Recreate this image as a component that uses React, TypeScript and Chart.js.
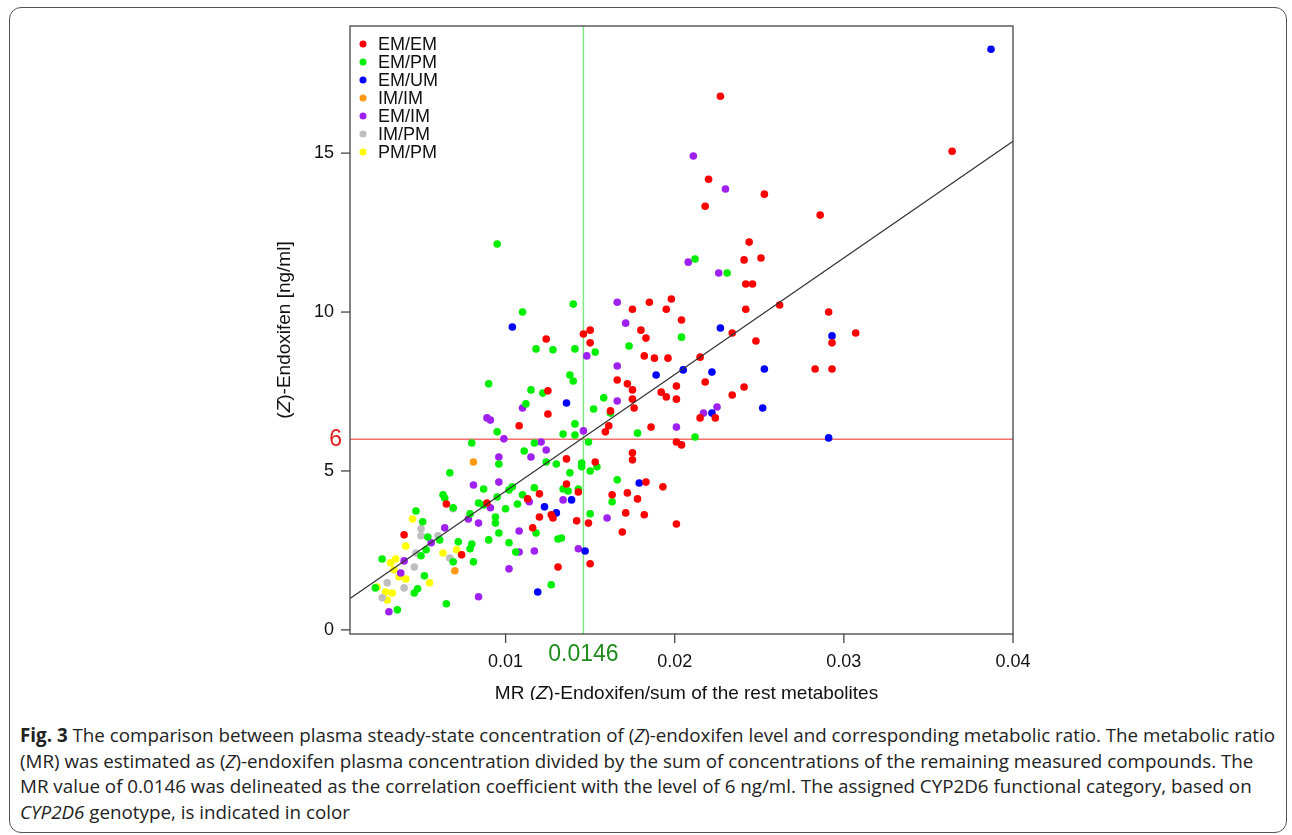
import React, { useEffect, useRef } from "react";
import { Chart, registerables } from "chart.js";
Chart.register(...registerables);

// MR values (x) and (Z)-endoxifen ng/ml (y) per CYP2D6 category
const emem: [number, number][] = [
  [0.0364,15.06],[0.0227,16.79],[0.022,14.18],[0.0218,13.33],[0.0253,13.71],[0.0286,13.05],[0.0244,12.2],[0.0241,11.64],[0.0251,11.7],
  [0.0242,10.88],[0.0246,10.88],[0.0242,10.09],[0.0262,10.22],[0.0234,9.34],[0.0248,9.09],[0.0175,10.09],[0.0185,10.31],[0.0198,10.41],
  [0.0195,10.09],[0.0204,9.75],[0.018,9.43],[0.0183,9.18],[0.015,9.43],[0.0146,9.31],[0.015,9.03],[0.0182,8.62],[0.0188,8.55],[0.0196,8.55],
  [0.0215,8.58],[0.0166,7.86],[0.0172,7.74],[0.0175,7.55],[0.0175,7.26],[0.0176,6.98],[0.0192,7.48],[0.0195,7.33],[0.0201,7.67],[0.0201,7.26],
  [0.0218,7.8],[0.0234,7.39],[0.0241,7.64],[0.0162,6.89],[0.0161,6.42],[0.0159,6.23],[0.0186,6.38],[0.0215,6.67],[0.0224,6.67],[0.0201,5.91],
  [0.0204,5.82],[0.0175,5.57],[0.0175,5.35],[0.0153,5.28],[0.0136,5.38],[0.0136,4.59],[0.0143,4.34],[0.0163,4.25],[0.0172,4.31],[0.0178,4.12],
  [0.0183,4.65],[0.0193,4.5],[0.0171,3.68],[0.0182,3.62],[0.0142,3.43],[0.0149,3.36],[0.0169,3.08],[0.0201,3.33],[0.015,2.08],[0.0291,10.0],
  [0.0293,9.03],[0.0307,9.34],[0.0283,8.21],[0.0293,8.21],[0.0124,9.15],[0.0125,7.52],[0.0125,6.79],[0.0108,6.42],[0.012,4.28],[0.0113,4.12],
  [0.0065,3.96],[0.0089,3.99],[0.012,3.55],[0.0127,3.62],[0.0128,3.52],[0.004,2.99],[0.0116,3.21],[0.0074,2.36],[0.0131,1.98],
];
const empm: [number, number][] = [
  [0.0095,12.14],[0.0212,11.67],[0.0231,11.23],[0.011,10.0],[0.014,10.25],[0.0141,8.84],[0.0153,8.74],[0.0173,8.93],[0.0204,9.21],[0.0138,8.02],
  [0.014,7.83],[0.0158,7.3],[0.0152,6.95],[0.0162,6.82],[0.0141,6.48],[0.0141,6.13],[0.0134,6.16],[0.0149,5.91],[0.0178,6.19],[0.0212,6.07],
  [0.0145,5.25],[0.0145,5.13],[0.0154,5.13],[0.015,5.0],[0.0138,4.94],[0.0166,4.72],[0.0134,4.43],[0.0137,4.37],[0.0143,4.43],[0.0163,4.03],
  [0.015,3.65],[0.0133,2.89],[0.0118,8.84],[0.0128,8.81],[0.009,7.74],[0.0115,7.55],[0.0122,7.45],[0.0112,7.11],[0.0095,6.23],[0.008,5.88],
  [0.0117,5.88],[0.0096,5.22],[0.0111,5.63],[0.013,5.22],[0.0124,5.28],[0.0067,4.94],[0.0087,4.43],[0.0102,4.4],[0.0104,4.5],[0.0117,4.47],
  [0.0095,4.18],[0.011,4.25],[0.0063,4.25],[0.0064,4.15],[0.0069,3.84],[0.0047,3.74],[0.0084,3.99],[0.0087,3.93],[0.01,3.81],[0.0107,3.96],
  [0.0079,3.65],[0.0094,3.55],[0.0094,3.36],[0.0051,3.4],[0.0096,3.05],[0.0118,3.05],[0.0054,2.92],[0.0061,2.83],[0.0072,2.77],[0.008,2.7],
  [0.0079,2.55],[0.009,2.83],[0.0102,2.74],[0.0131,2.86],[0.0053,2.52],[0.005,2.33],[0.0069,2.14],[0.0081,2.14],[0.0027,2.23],[0.0052,1.7],
  [0.0023,1.32],[0.0046,1.16],[0.0048,1.29],[0.0127,1.42],[0.0065,0.82],[0.0036,0.63],[0.0106,2.45],
];
const emum: [number, number][] = [
  [0.0387,18.27],[0.0227,9.5],[0.0205,8.18],[0.0189,8.02],[0.0222,8.11],[0.0253,8.21],[0.0252,6.98],[0.0222,6.82],[0.0136,7.14],[0.0179,4.62],
  [0.0139,4.09],[0.0147,2.48],[0.0293,9.25],[0.0291,6.04],[0.0104,9.53],[0.0123,3.87],[0.013,3.68],[0.0119,1.19],
];
const imim: [number, number][] = [[0.0081,5.28],[0.007,1.86]];
const emim: [number, number][] = [
  [0.0211,14.91],[0.023,13.87],[0.0208,11.57],[0.0226,11.23],[0.0166,10.31],[0.0171,9.65],[0.0148,8.62],[0.0166,8.3],[0.0166,7.2],[0.0225,7.01],
  [0.0217,6.82],[0.0201,6.38],[0.0146,6.26],[0.0134,4.09],[0.016,3.52],[0.0143,2.55],[0.011,6.98],[0.0089,6.67],[0.0091,6.6],[0.0099,6.01],
  [0.0121,5.91],[0.0124,5.66],[0.0096,5.44],[0.0115,5.44],[0.0081,4.56],[0.0096,4.65],[0.0114,4.03],[0.0091,3.84],[0.0078,3.49],[0.0084,3.36],
  [0.0064,3.21],[0.0108,3.11],[0.0056,2.74],[0.0108,2.45],[0.0117,2.48],[0.0102,1.92],[0.004,2.17],[0.0038,1.79],[0.0084,1.04],[0.0031,0.57],
];
const impm: [number, number][] = [
  [0.0069,3.81],[0.005,3.18],[0.005,2.96],[0.006,2.96],[0.0047,2.42],[0.0067,2.26],[0.0046,1.98],[0.003,1.48],[0.004,1.32],[0.0027,1.01],
];
const pmpm: [number, number][] = [
  [0.0045,3.49],[0.0041,2.64],[0.0063,2.42],[0.0071,2.52],[0.0035,2.23],[0.0032,2.11],[0.0034,1.89],[0.0037,1.67],[0.0041,1.6],[0.0055,1.48],
  [0.0024,1.35],[0.0029,1.19],[0.0033,1.16],[0.003,0.94],
];
const groupNames = ["EM/EM", "EM/PM", "EM/UM", "IM/IM", "EM/IM", "IM/PM", "PM/PM"];
const groupColors = ["#FF0000", "#00EE00", "#0000FF", "#FF9A10", "#A020F0", "#BEBEBE", "#FFFF00"];
const groups = [emem, empm, emum, imim, emim, impm, pmpm];
const xTicks = [0.01, 0.02, 0.03, 0.04];
const yTicks = [0, 5, 10, 15];
const cutX = 0.0146;
const cutY = 6;
const fitSlope = 367;
const fitIntercept = 0.695;
const xMin = 0.0008, xMax = 0.04, yMin = -0.13, yMax = 19.0;

const FONT = "'Liberation Sans', Arial, sans-serif";

function drawMixed(ctx: CanvasRenderingContext2D, parts: [string, boolean][], x: number, y: number, size: number) {
  let total = 0;
  for (const [t, it] of parts) { ctx.font = `${it ? "italic " : ""}${size}px ${FONT}`; total += ctx.measureText(t).width; }
  let cx = x - total / 2;
  ctx.textAlign = "left";
  for (const [t, it] of parts) { ctx.font = `${it ? "italic " : ""}${size}px ${FONT}`; ctx.fillText(t, cx, y); cx += ctx.measureText(t).width; }
}

const decor = {
  id: "decor",
  beforeDatasetsDraw(chart: any) {
    const { ctx, chartArea: a, scales } = chart;
    const xs = scales.x, ys = scales.y;
    ctx.save();
    ctx.beginPath(); ctx.rect(a.left, a.top, a.right - a.left, a.bottom - a.top); ctx.clip();
    ctx.lineWidth = 1.5;
    ctx.strokeStyle = "#F07070";
    const py = ys.getPixelForValue(cutY);
    ctx.beginPath(); ctx.moveTo(a.left, py); ctx.lineTo(a.right, py); ctx.stroke();
    ctx.strokeStyle = "#80E880";
    const px = xs.getPixelForValue(cutX);
    ctx.beginPath(); ctx.moveTo(px, a.top); ctx.lineTo(px, a.bottom); ctx.stroke();
    ctx.restore();
  },
  afterDraw(chart: any) {
    const { ctx, chartArea: a, scales } = chart;
    const xs = scales.x, ys = scales.y;
    ctx.save();
    ctx.strokeStyle = "#444"; ctx.lineWidth = 1.3;
    ctx.strokeRect(a.left, a.top, a.right - a.left, a.bottom - a.top);
    ctx.fillStyle = "#111"; ctx.textBaseline = "middle";
    ctx.font = `18px ${FONT}`;
    for (const v of yTicks) {
      const p = ys.getPixelForValue(v);
      ctx.beginPath(); ctx.moveTo(a.left, p); ctx.lineTo(a.left - 9, p); ctx.stroke();
      ctx.textAlign = "right"; ctx.fillText(String(v), a.left - 16, p);
    }
    for (const v of xTicks) {
      const p = xs.getPixelForValue(v);
      ctx.beginPath(); ctx.moveTo(p, a.bottom); ctx.lineTo(p, a.bottom + 9); ctx.stroke();
      ctx.textAlign = "center"; ctx.fillText(String(v), p, a.bottom + 28);
    }
    ctx.fillStyle = "#E02020"; ctx.font = `23px ${FONT}`; ctx.textAlign = "right";
    ctx.fillText(String(cutY), a.left - 8, ys.getPixelForValue(cutY));
    ctx.fillStyle = "#1E8C1E"; ctx.textAlign = "center";
    ctx.fillText(String(cutX), xs.getPixelForValue(cutX), a.bottom + 21);
    ctx.fillStyle = "#111";
    drawMixed(ctx, [["MR (", false], ["Z", true], [")-Endoxifen/sum of the rest metabolites", false]], (a.left + a.right) / 2 + 5, a.bottom + 60, 19);
    ctx.save();
    ctx.translate(a.left - 65, (a.top + a.bottom) / 2);
    ctx.rotate(-Math.PI / 2);
    drawMixed(ctx, [["(", false], ["Z", true], [")-Endoxifen [ng/ml]", false]], 0, 0, 19);
    ctx.restore();
    ctx.font = `18px ${FONT}`; ctx.textAlign = "left";
    groupNames.forEach((n, i) => {
      const y = a.top + 18 + i * 18;
      ctx.fillStyle = groupColors[i];
      ctx.beginPath(); ctx.arc(a.left + 13, y, 3.5, 0, Math.PI * 2); ctx.fill();
      ctx.fillStyle = "#111"; ctx.fillText(n, a.left + 28, y + 1);
    });
    ctx.restore();
  },
};

function PlotChart() {
  const ref = useRef<HTMLCanvasElement>(null);
  useEffect(() => {
    const datasets: any[] = groups.map((g, i) => ({
      type: "scatter", label: groupNames[i], data: g.map(([x, y]) => ({ x, y })),
      backgroundColor: groupColors[i], borderWidth: 0, pointRadius: 3.8, pointHoverRadius: 3.8,
    }));
    datasets.unshift({
      type: "line", label: "fit", data: [xMin, xMax].map((x) => ({ x, y: fitIntercept + fitSlope * x })),
      borderColor: "#333", borderWidth: 1.2, pointRadius: 0, fill: false,
    });
    const chart = new Chart(ref.current!, {
      type: "scatter",
      data: { datasets },
      options: {
        animation: false, responsive: false, events: [],
        layout: { padding: { left: 350, right: 279, top: 26, bottom: 66 } },
        plugins: { legend: { display: false }, tooltip: { enabled: false } },
        scales: {
          x: { type: "linear", min: xMin, max: xMax, display: false },
          y: { type: "linear", min: yMin, max: yMax, display: false },
        },
      },
      plugins: [decor],
    });
    return () => chart.destroy();
  }, []);
  return <canvas ref={ref} width={1292} height={700} style={{ position: "absolute", left: 0, top: 0, width: 1292, height: 700 }} />;
}

const capStyle: React.CSSProperties = { position: "absolute", left: 20, whiteSpace: "nowrap", fontFamily: "'Open Sans', 'Noto Sans', sans-serif", fontSize: 18.8, color: "#222", lineHeight: "22px" };

export default function App() {
  return (
    <div style={{ position: "absolute", left: 0, top: 0, width: 1292, height: 835, background: "#fff", overflow: "hidden" }}>
      <div style={{ position: "absolute", left: 9, top: 7, width: 1276, height: 824, border: "1.5px solid #555", borderRadius: 12 }} />
      <PlotChart />
      <div style={{ ...capStyle, top: 724 }}><b>Fig. 3</b> The comparison between plasma steady-state concentration of (<i>Z</i>)-endoxifen level and corresponding metabolic ratio. The metabolic ratio</div>
      <div style={{ ...capStyle, top: 750 }}>(MR) was estimated as (<i>Z</i>)-endoxifen plasma concentration divided by the sum of concentrations of the remaining measured compounds. The</div>
      <div style={{ ...capStyle, top: 775 }}>MR value of 0.0146 was delineated as the correlation coefficient with the level of 6 ng/ml. The assigned CYP2D6 functional category, based on</div>
      <div style={{ ...capStyle, top: 801 }}><i>CYP2D6</i> genotype, is indicated in color</div>
    </div>
  );
}
